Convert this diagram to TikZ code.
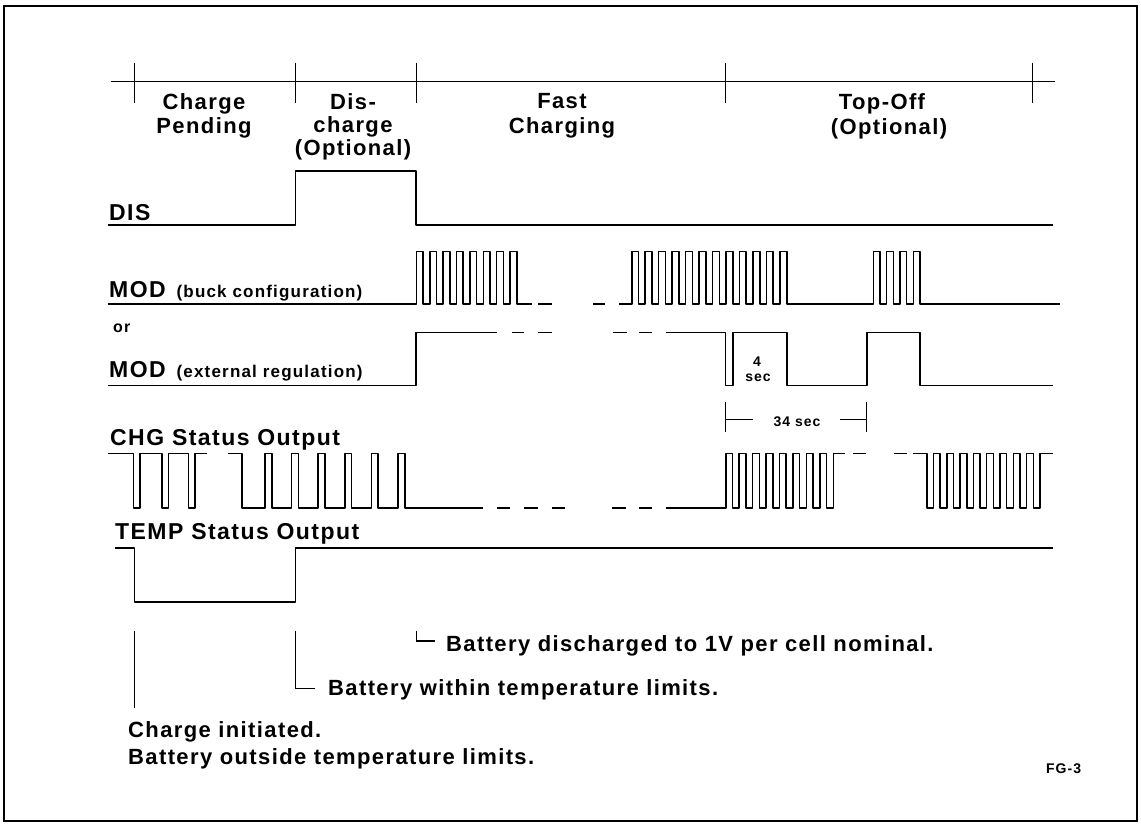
\documentclass[tikz,border=0pt]{standalone}
\usepackage{fontspec}
\setmainfont{Liberation Sans}[LetterSpace=6.3]
\newfontfamily\sbf{Liberation Sans Bold}[LetterSpace=7]
\begin{document}
\begin{tikzpicture}[x=1pt,y=-1pt,
  sig/.style={line width=1.6pt,line join=round},
  axisline/.style={line width=1.4pt},
  lead/.style={line width=1.3pt},
  big/.style={font=\bfseries\fontsize{22}{26}\selectfont,inner sep=0pt},
  siglbl/.style={font=\bfseries\fontsize{23}{27}\selectfont,inner sep=0pt,anchor=base west},
  sm/.style={font=\sbf\fontsize{14}{16}\selectfont,inner sep=0pt},
  smb/.style={font=\sbf\fontsize{16}{18}\selectfont,inner sep=0pt}]
\useasboundingbox (0,0) rectangle (1141,825);
\draw[line width=1.5pt] (4,6) rectangle (1137,821);

% time axis
\coordinate (tl0) at (110.6,81.5);
\coordinate (tl1) at (1055,81.5);
\draw[axisline] (tl0) -- (tl1);
\foreach \x in {134.6,295.5,416.2,725.5,1032.6} \draw[axisline] (\x,63) -- (\x,102.6);

% phase labels
\node[big,anchor=base] (cp1) at (204,109) {Charge};
\node[big,anchor=base] (cp2) at (204,133) {Pending};
\node[big,anchor=base] (dc1) at (353,109) {Dis-};
\node[big,anchor=base] (dc2) at (353,132) {charge};
\node[big,anchor=base] (dc3) at (353,155) {(Optional)};
\node[big,anchor=base] (fc1) at (562,108) {Fast};
\node[big,anchor=base] (fc2) at (562,133) {Charging};
\node[big,anchor=base] (to1) at (882,109) {Top-Off};
\node[big,anchor=base] (to2) at (889,134) {(Optional)};

% signal labels
\node[siglbl] (dis) at (109,220) {DIS};
\node[siglbl] (modb) at (109,297) {MOD\hspace{3pt} {\sbf\fontsize{17}{19}\selectfont(buck configuration)}};
\node[smb,anchor=base west] (orlbl) at (113,332) {or};
\node[siglbl] (mode) at (109,377) {MOD\hspace{3pt} {\sbf\fontsize{17}{19}\selectfont(external regulation)}};
\node[siglbl] (chg) at (110,445) {CHG Status Output};
\node[siglbl] (temp) at (115,539) {TEMP Status Output};

% DIS
\draw[sig] (107.7,225.2) -- (295.5,225.2) -- (295.5,171) -- (416.2,171) -- (416.2,225.2) -- (1053,225.2);

% MOD buck
\draw[sig] (107.7,304) -- (416.5,304)
  \foreach \i in {1,...,8} { -- ++(0,-52.5) -- ++(6.68,0) -- ++(0,52.5) -- ++(6.68,0) } -- (532,304);
\draw[sig] (538,304) -- (552,304);
\draw[sig] (593,304) -- (605,304);
\draw[sig] (619,304) -- (631.7,304)
  \foreach \i in {1,...,12} { -- ++(0,-52.5) -- ++(6.74,0) -- ++(0,52.5) -- ++(6.74,0) } -- (873.3,304)
  \foreach \i in {1,...,4} { -- ++(0,-52.5) -- ++(6.67,0) -- ++(0,52.5) -- ++(6.67,0) } -- (1060,304);

% MOD external
\draw[sig] (107.7,385.6) -- (416.2,385.6) -- (416.2,332.5) -- (496.7,332.5);
\draw[sig] (511.7,332.5) -- (524,332.5);
\draw[sig] (538.3,332.5) -- (551.7,332.5);
\draw[sig] (612.7,332.5) -- (626.7,332.5);
\draw[sig] (639.3,332.5) -- (651.7,332.5);
\draw[sig] (665.7,332.5) -- (725.5,332.5) -- (725.5,385.6) -- (732.7,385.6) -- (732.7,332.5) -- (786.7,332.5) -- (786.7,385.6) -- (866.7,385.6) -- (866.7,332.5) -- (920,332.5) -- (920,385.6) -- (1053,385.6);
\node[sm,anchor=base] (four) at (757,366) {4};
\node[sm,anchor=base] (secl) at (758,381) {sec};

% 34 sec dimension
\coordinate (d1) at (725.5,402);
\coordinate (d2) at (866.7,402);
\draw[lead] (d1) -- ++(0,29.7);
\draw[lead] (d2) -- ++(0,29.7);
\node[sm,anchor=base] (t34) at (797,426) {34 sec};
\draw[lead] (725.5,419.5) -- (752.7,419.5);
\draw[lead] (840,419.5) -- (866.7,419.5);

% CHG status
\draw[sig] (108.3,453.3) -- (133.3,453.3) -- (133.3,508) -- (140,508) -- (140,453.3) -- (161.7,453.3) -- (161.7,508) -- (168.3,508) -- (168.3,453.3) -- (188.3,453.3) -- (188.3,508) -- (195,508) -- (195,453.3) -- (206.7,453.3);
\draw[sig] (228.3,453.3) -- (241.7,453.3) -- (241.7,508) -- (265,508)
  \foreach \i in {1,...,6} { -- ++(0,-54.7) -- ++(6.7,0) -- ++(0,54.7) -- ++(19.9,0) } -- (483.3,508);
\draw[sig] (496.7,508) -- (510,508);
\draw[sig] (524,508) -- (537.7,508);
\draw[sig] (551.7,508) -- (565,508);
\draw[sig] (612,508) -- (625.7,508);
\draw[sig] (639,508) -- (652.3,508);
\draw[sig] (665.7,508) -- (725.7,508)
  \foreach \i in {1,...,8} { -- ++(0,-54.7) -- ++(6.725,0) -- ++(0,54.7) -- ++(6.725,0) } -- ++(0,-54.7) -- (845,453.3);
\draw[sig] (853,453.3) -- (866,453.3);
\draw[sig] (894,453.3) -- (907,453.3);
\draw[sig] (913.3,453.3) -- (926.7,453.3)
  \foreach \i in {1,...,8} { -- ++(0,54.7) -- ++(6.665,0) -- ++(0,-54.7) -- ++(6.665,0) } -- ++(0,54.7) -- ++(6.665,0) -- ++(0,-54.7) -- (1053.3,453.3);

% TEMP status
\draw[sig] (115,548) -- (134.6,548) -- (134.6,602) -- (295.5,602) -- (295.5,548) -- (1053,548);

% annotations
\node[big,anchor=base west] (dch) at (446,651) {Battery discharged to 1V per cell nominal.};
\node[big,anchor=base west] (win) at (328,695) {Battery within temperature limits.};
\node[big,anchor=base west] (ini) at (128,737) {Charge initiated.};
\node[big,anchor=base west] (out) at (128,764) {Battery outside temperature limits.};
\coordinate (a1) at (134.6,631);
\coordinate (a2) at (295.5,631);
\coordinate (a3) at (416.2,631);
\draw[lead] (a1) -- ++(0,77);
\draw[lead] (a2) |- (315,688.5);
\draw[lead] (a3) |- (435,641);
\node[sm,anchor=base west] (fg) at (1046,773) {FG-3};
\end{tikzpicture}
\end{document}
